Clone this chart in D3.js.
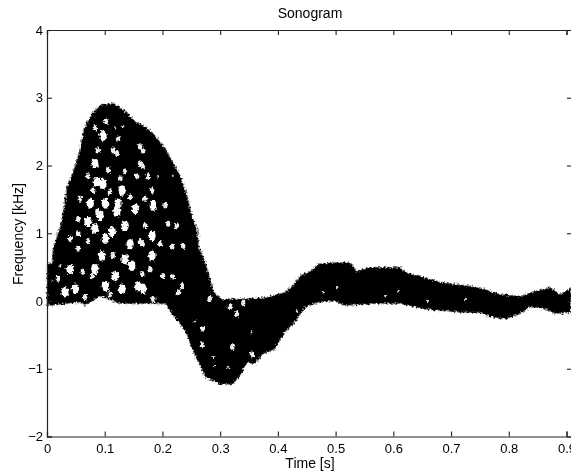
<!DOCTYPE html>
<html><head><meta charset="utf-8">
<script src="https://cdn.jsdelivr.net/npm/d3@7"></script>
<style>
html,body{margin:0;padding:0;background:#fff;overflow:hidden}
svg{display:block;font-family:"Liberation Sans",Arial,sans-serif;filter:blur(0.45px)}
text{fill:#000;font-size:14px}
</style></head><body>
<svg id="c" width="571" height="471"></svg>
<script>
const title = "Sonogram", xLabel = "Time [s]", yLabel = "Frequency [kHz]";
const xTicks = [0,0.1,0.2,0.3,0.4,0.5,0.6,0.7,0.8,0.9];
const yTicks = [-2,-1,0,1,2,3,4];

// upper edge of the dark band
const upperT = [0,.009,.010,.023,.028,.035,.049,.057,.064,.078,.092,.114,.135,.153,.170,.187,.205,.217,.231,.243,.251,.260,.263,.274,.282,.289,.303,.334,.378,.412,.425,.438,.456,.470,.499,.525,.537,.560,.612,.620,.646,.681,.733,.750,.785,.820,.846,.872,.889,.908];
const upperF = [.55,.55,.77,1.1,1.32,1.7,2.0,2.25,2.55,2.77,2.89,2.92,2.81,2.65,2.58,2.44,2.25,2.06,1.85,1.56,1.26,1.07,.81,.58,.33,.13,.03,.03,.05,.13,.22,.37,.44,.55,.57,.57,.44,.50,.50,.43,.37,.28,.22,.20,.10,.07,.15,.20,.10,.20];
// lower edge of the dark band
const lowerT = [0,.057,.066,.092,.127,.205,.217,.231,.243,.251,.265,.274,.300,.321,.334,.347,.360,.373,.395,.412,.430,.447,.470,.499,.516,.560,.612,.655,.716,.750,.767,.793,.820,.837,.863,.881,.908];
const lowerF = [-.07,-.02,-.07,.07,-.04,-.04,-.2,-.34,-.51,-.71,-.96,-1.12,-1.23,-1.23,-1.11,-.9,-.93,-.79,-.71,-.46,-.31,-.09,-.02,0,-.07,-.04,-.04,-.12,-.17,-.17,-.23,-.27,-.19,-.09,-.12,-.19,-.17];
// pale speckles inside the band: time, frequency, strength
const specks = [
[.102,2.65,1],[.083,2.55,1],[.132,2.58,0],[.118,2.55,0],[.097,2.44,2],[.123,2.40,1],[.088,2.22,1],[.114,2.22,1],[.161,2.28,1],[.083,2.03,2],[.121,2.18,1],[.106,1.93,1],[.135,1.91,1],[.087,1.76,2],[.097,1.73,2],[.071,1.84,1],[.130,1.63,2],[.109,1.61,1],[.080,1.63,1],[.144,1.54,1],[.161,2.03,1],[.156,1.84,1],
[.054,1.21,1],[.071,1.17,2],[.092,1.26,2],[.121,1.32,2],[.135,1.11,2],[.095,.67,2],[.114,.67,1],[.071,.87,1],[.054,.77,1],[.040,.47,2],[.023,.52,0],[.062,.43,1],[.118,.37,2],[.147,.52,2],[.078,.37,1],[.031,.13,2],[.066,.06,1],[.101,.22,2],[.130,.18,2],[.158,.22,2],[.009,.30,0],[.083,1.07,2],[.113,1.02,2],[.161,.87,1],[.087,1.32,1],
[.166,2.22,1],[.166,1.99,1],[.191,1.84,0],[.175,1.84,1],[.218,1.85,0],[.182,1.63,1],[.184,1.41,2],[.205,1.41,1],[.210,1.14,1],[.225,1.11,1],[.182,.96,2],[.196,.84,1],[.217,.80,1],[.236,.81,1],[.182,.67,2],[.218,.36,1],[.234,.22,1],[.227,.13,1],[.166,.18,2],[.184,.03,1],[.201,.37,1],[.166,.84,1],[.170,1.11,1],
[.040,.92,1],[.057,1.51,1],[.075,1.44,2],[.101,1.44,2],[.123,1.44,2],[.153,1.36,2],[.170,1.51,1],[.054,.99,1],[.101,.92,2],[.144,.84,2],[.179,.47,1],[.083,.47,2],[.135,.62,2],[.019,.33,1],[.109,.10,1],[.049,.18,2],[.165,.40,1],[.127,1.81,1],
[.282,.03,1],[.340,-.03,1],[.317,-.09,1],[.329,-.19,1],[.270,-.41,1],[.256,-.30,0],[.269,-.64,1],[.321,-.68,1],[.355,-.79,1],[.291,-.96,0],[.314,-.98,0],[.338,-1.08,0],[.355,-.46,0],[.433,-.15,0],[.288,-.83,0],
[.503,.19,0],[.586,.07,0],[.608,.15,0],[.478,.13,0],[.660,0,0],[.724,.03,0],[.764,-.24,0]
];

const svg = d3.select("#c");
const x = d3.scaleLinear().domain([0,0.9]).range([47,566.5]);
const y = d3.scaleLinear().domain([-2,4]).range([436.5,30]);

const defs = svg.append("defs");
const rough = defs.append("filter").attr("id","rough").attr("x","-5%").attr("y","-5%").attr("width","110%").attr("height","110%");
rough.append("feTurbulence").attr("type","fractalNoise").attr("baseFrequency",0.5).attr("numOctaves",2).attr("seed",4).attr("result","n");
rough.append("feDisplacementMap").attr("in","SourceGraphic").attr("in2","n").attr("scale",5).attr("xChannelSelector","R").attr("yChannelSelector","G");

const band = svg.append("g").attr("filter","url(#rough)");
const pts = upperT.map((t,i)=>[t,upperF[i]]).concat(lowerT.map((t,i)=>[t,lowerF[i]]).reverse());
const line = d3.line().x(d=>x(d[0])).y(d=>y(d[1]));
band.append("path").attr("d",line(pts)+"Z").attr("fill","#050505").attr("stroke","#8a8a8a").attr("stroke-width",1.4).attr("stroke-dasharray","1.5 1.5");
const rx = [1.0,2.2,3.6], ry = [1.2,3.0,5.2];
const shade = ["#dddddd","#eeeeee","#ffffff"];
band.selectAll("ellipse").data(specks).join("ellipse")
  .attr("cx",d=>x(d[0])).attr("cy",d=>y(d[1]))
  .attr("rx",d=>rx[d[2]]).attr("ry",d=>ry[d[2]])
  .attr("fill",d=>shade[d[2]]);

// axes
svg.append("g").attr("transform",`translate(0,${y(-2)})`)
  .call(d3.axisBottom(x).tickValues(xTicks).tickSize(-5).tickPadding(7).tickFormat(d=>d===0?"0":d3.format(".1f")(d)));
svg.append("g").attr("transform",`translate(0,${y(4)})`)
  .call(d3.axisTop(x).tickValues(xTicks).tickSize(-5).tickFormat(""));
svg.append("g").attr("transform",`translate(${x(0)},0)`)
  .call(d3.axisLeft(y).tickValues(yTicks).tickSize(-5).tickPadding(4).tickFormat(d=>d<0?"\u2212"+(-d):d));
svg.append("g").attr("transform",`translate(573,0)`)
  .call(d3.axisRight(y).tickValues(yTicks).tickSize(-6).tickFormat(""));
svg.selectAll(".domain").attr("stroke","#222").attr("stroke-width",1.2).attr("fill","none");
svg.selectAll(".tick line").attr("stroke","#222").attr("stroke-width",1.1);
svg.selectAll(".tick text").style("font-family","inherit").style("font-size","13px").attr("fill","#000");

svg.append("text").attr("x",310).attr("y",18).attr("text-anchor","middle").text(title);
svg.append("text").attr("x",310).attr("y",468).attr("text-anchor","middle").text(xLabel);
svg.append("text").attr("transform","translate(23,234) rotate(-90)").attr("text-anchor","middle").text(yLabel);
</script>
</body></html>
